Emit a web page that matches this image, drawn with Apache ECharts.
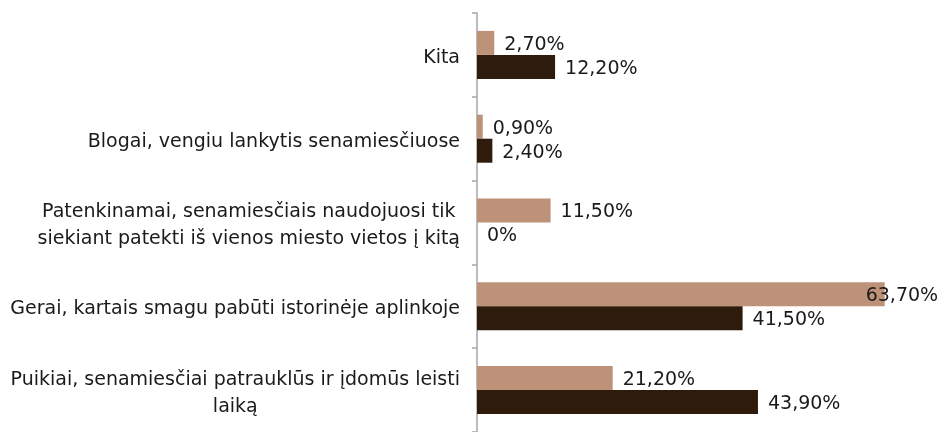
<!DOCTYPE html>
<html>
<head>
<meta charset="utf-8">
<script src="https://cdn.jsdelivr.net/npm/echarts@6/dist/echarts.min.js"></script>
<style>
  html, body { margin: 0; padding: 0; background: #fff; }
  #main { width: 945px; height: 432px; }
</style>
</head>
<body>
<div id="main"></div>
<script>
const categories = [
  'Kita',
  'Blogai, vengiu lankytis senamiesčiuose',
  'Patenkinamai, senamiesčiais naudojuosi tik\nsiekiant patekti iš vienos miesto vietos į kitą',
  'Gerai, kartais smagu pabūti istorinėje aplinkoje',
  'Puikiai, senamiesčiai patrauklūs ir įdomūs leisti\nlaiką'
];
const lightValues = [2.7, 0.9, 11.5, 63.7, 21.2];
const darkValues = [12.2, 2.4, 0, 41.5, 43.9];

const chart = echarts.init(document.getElementById('main'));

function fmt(p) {
  if (p.value === 0) return '0%';
  return p.value.toFixed(2).replace('.', ',') + '%';
}

const labelStyle = {
  show: true,
  position: 'right',
  distance: 10,
  offset: [0, 2],
  fontFamily: 'DejaVu Sans',
  fontSize: 19,
  color: '#1a1a1a',
  formatter: fmt
};

const option = {
  animation: false,
  grid: { left: 477, right: 20, top: 13, height: 424 },
  xAxis: {
    type: 'value',
    min: 0,
    max: 70,
    show: false
  },
  yAxis: {
    type: 'category',
    data: categories,
    inverse: true,
    axisLine: { show: true, lineStyle: { color: '#a6a6a6', width: 1.5 } },
    axisTick: { show: true, length: 5, lineStyle: { color: '#a6a6a6', width: 1.5 } },
    axisLabel: {
      margin: 17,
      padding: [6, 0, 0, 0],
      fontFamily: 'DejaVu Sans',
      fontSize: 19,
      color: '#1a1a1a',
      lineHeight: 27,
      formatter: function (v) {
        return v.split('\n').map(l => '{c|' + l + '}').join('\n');
      },
      rich: {
        c: { align: 'center', fontFamily: 'DejaVu Sans', fontSize: 19, color: '#1a1a1a', lineHeight: 27 }
      }
    }
  },
  series: [
    {
      name: 'light',
      type: 'bar',
      data: lightValues.map((v, i) => i === 3 ? { value: v, label: { offset: [-29, 2] } } : v),
      barWidth: 24,
      barGap: '0%',
      itemStyle: { color: '#be9279' },
      label: labelStyle
    },
    {
      name: 'dark',
      type: 'bar',
      data: darkValues,
      barWidth: 24,
      barGap: '0%',
      itemStyle: { color: '#2f1b0c' },
      label: labelStyle
    }
  ]
};

chart.setOption(option);
</script>
</body>
</html>
